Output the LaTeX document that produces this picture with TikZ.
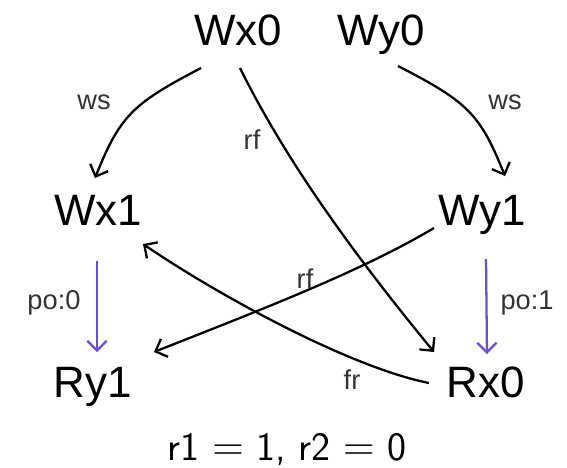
\documentclass[tikz,border=0pt]{standalone}
\usepackage{fontspec}
\setmainfont{Liberation Sans}
\usepackage{tikz}
\usetikzlibrary{arrows.meta}
\definecolor{poViolet}{RGB}{108,76,214}

\begin{document}
\begin{tikzpicture}[
  x=0.02cm, y=-0.02cm,
  ev/.style={font=\fontsize{25}{28}\selectfont, inner sep=0pt, anchor=base},
  lbl/.style={font=\fontsize{15.5}{17}\selectfont, inner sep=0pt, text=black!80},
  arr/.style={-{Straight Barb[length=5.5pt, width=11pt]}, line width=1.3pt},
  po/.style={arr, color=poViolet},
]
\useasboundingbox (0,0) rectangle (567,467);

\node[ev] (wx0) at (238,45)  {Wx0};
\node[ev] (wy0) at (381,45)  {Wy0};
\node[ev] (wx1) at (98,225)  {Wx1};
\node[ev] (wy1) at (482,225) {Wy1};
\node[ev] (ry1) at (93,397)  {Ry1};
\node[ev] (rx0) at (486,397) {Rx0};
\node[font=\fontsize{23}{26}\selectfont\sffamily, inner sep=0pt, anchor=base] (res) at (287,460)
  {r1 $=$ 1, r2 $=$ 0};

% write serialization
\draw[arr] ([shift={(-37,23)}]wx0.base) .. controls (132,104) and (120,116) .. ([shift={(-3,-47)}]wx1.base);
\draw[arr] ([shift={(17,21)}]wy0.base) .. controls (468,102) and (480,114) .. ([shift={(23,-49)}]wy1.base);
\node[lbl] (ws1) at (94,102)  {ws};
\node[lbl] (ws2) at (505,102) {ws};

% reads-from
\draw[arr] ([shift={(2,23)}]wx0.base) .. controls (287,163) and (356,257) .. ([shift={(-52,-45)}]rx0.base);
\draw[arr] ([shift={(-48,3)}]wy1.base) .. controls (360,272) and (260,310) .. ([shift={(61,-45)}]ry1.base);
\node[lbl] (rf1) at (252,140) {rf};
\node[lbl] (rf2) at (305,279) {rf};

% from-read
\draw[arr] ([shift={(-57,-14)}]rx0.base) .. controls (349,367) and (218,295) .. ([shift={(45,19)}]wx1.base);
\node[lbl] (fr) at (352,380) {fr};

% program order
\draw[po] ([shift={(-1,36)}]wx1.base) -- ([shift={(4,-45)}]ry1.base);
\draw[po] ([shift={(4,34)}]wy1.base) -- ([shift={(1,-43)}]rx0.base);
\node[lbl] (po0) at (54,303)  {po:0};
\node[lbl] (po1) at (527,303) {po:1};
\end{tikzpicture}
\end{document}
